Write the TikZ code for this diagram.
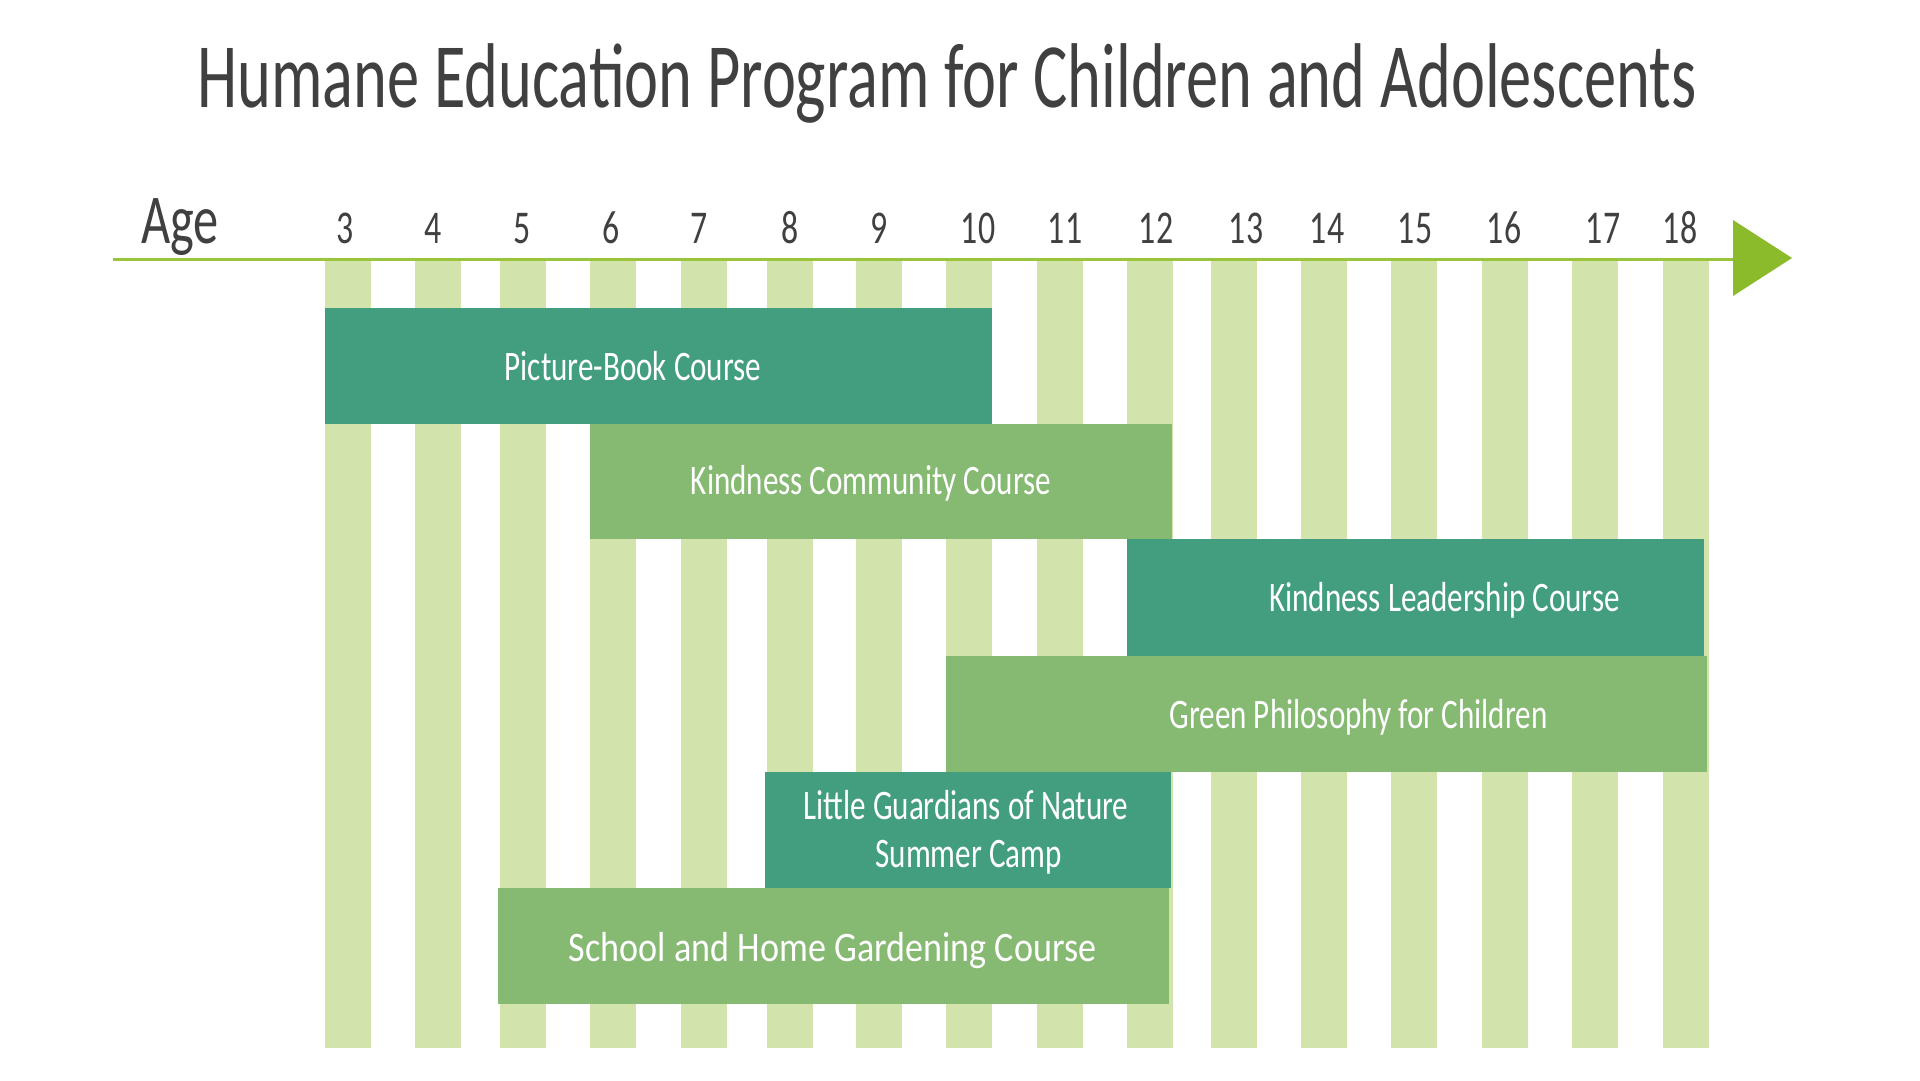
\documentclass[tikz,border=0pt]{standalone}
\usepackage{fontspec}
\setmainfont{Carlito}
\newfontfamily\hand[FakeStretch=0.74]{Carlito}
\newfontfamily\handwide[FakeStretch=0.86]{Carlito}
\newfontfamily\handtitle[FakeStretch=0.70]{Carlito}
\newfontfamily\handtick[FakeStretch=0.72]{Carlito}
\definecolor{stripe}{HTML}{D2E4AB}
\definecolor{darkbar}{HTML}{429E7F}
\definecolor{lightbar}{HTML}{86B972}
\definecolor{ink}{HTML}{404040}
\definecolor{axisc}{HTML}{9AC43C}
\definecolor{arrowc}{HTML}{8BBA2A}
\tikzset{
  lbl/.style={inner sep=0pt, anchor=base, text=white, font=\hand\fontsize{42}{48}\selectfont},
  tick/.style={inner sep=0pt, anchor=base, text=ink, font=\handtick\fontsize{47}{52}\selectfont},
  stripebar/.style={fill=stripe},
  darkfill/.style={fill=darkbar},
  lightfill/.style={fill=lightbar},
}
\begin{document}
\begin{tikzpicture}[x=1pt,y=-1pt]
\useasboundingbox[fill=white] (0,0) rectangle (1920,1080);
% title
\node[inner sep=0pt, anchor=base, text=ink, font=\handtitle\fontsize{92}{100}\selectfont] (title) at (947,107) {Humane Education Program for Children and Adolescents};
% stripes and age labels
\foreach \n/\l/\c in {3/324.5/345, 4/415/433, 5/500/522, 6/590/611.5, 7/681/699.5, 8/766.5/789.6, 9/856/879, 10/946/978, 11/1037/1065, 12/1126.5/1156, 13/1211/1246, 14/1301/1327, 15/1391/1415, 16/1482/1504, 17/1572/1603, 18/1663/1680}{
  \fill[stripebar] (\l,261) rectangle ++(46,787);
  \node[tick] (n\n) at (\c,243) {\n};
}
% axis
\node[inner sep=0pt, anchor=base, text=ink, font=\handtick\fontsize{70}{76}\selectfont] (age) at (180,243) {Age};
\coordinate (axL) at (113,259);
\coordinate (axR) at (1735,259);
\draw[axisc, line width=3pt] (axL) -- (axR);
\fill[arrowc] (1733,220) -- (1792,258) -- (1733,296) -- cycle;
% bars
\fill[darkfill] (324.5,307.7) rectangle (992,424);
\node[lbl] (c1) at (633,380) {Picture-Book Course};
\fill[lightfill] (590,424) rectangle (1171.5,539.3);
\node[lbl] (c2) at (871,494.3) {Kindness Community Course};
\fill[darkfill] (1126.7,539.3) rectangle (1704,655.7);
\node[lbl] (c3) at (1444.5,611.7) {Kindness Leadership Course};
\fill[lightfill] (946,655.7) rectangle (1706.6,771.7);
\node[lbl] (c4) at (1358.6,728.3) {Green Philosophy for Children};
\fill[darkfill] (765,772) rectangle (1171,887.7);
\node[lbl] (c5a) at (966,819.3) {Little Guardians of Nature};
\node[lbl] (c5b) at (968.6,867.3) {Summer Camp};
\fill[lightfill] (498,887.7) rectangle (1169,1004);
\node[lbl, font=\handwide\fontsize{42}{48}\selectfont] (c6) at (832.6,961) {School and Home Gardening Course};
\end{tikzpicture}
\end{document}
